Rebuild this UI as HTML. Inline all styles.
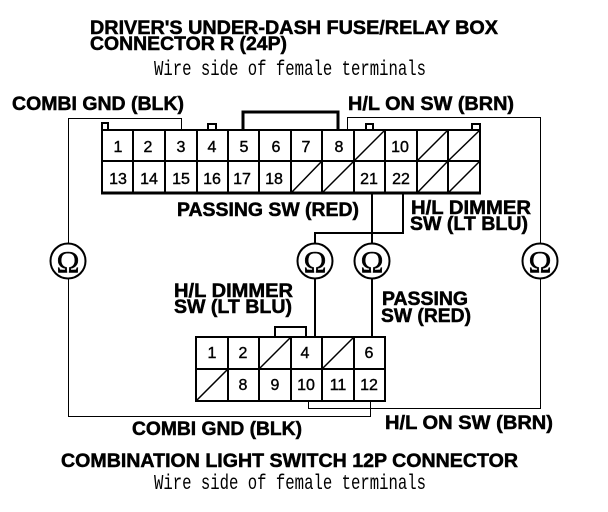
<!DOCTYPE html>
<html><head><meta charset="utf-8"><style>
html,body{margin:0;padding:0;background:#fff}
svg{display:block}
.b{font-family:"Liberation Sans",sans-serif;font-weight:bold;font-size:19px;stroke:#000;stroke-width:.5px}
.m{font-family:"Liberation Mono",monospace;font-size:21px}
.n{font-family:"Liberation Sans",sans-serif;font-size:16px;text-anchor:middle;stroke:#000;stroke-width:.4px}
.o{font-family:"Liberation Serif",serif;font-size:31px;text-anchor:middle;stroke:#000;stroke-width:.4px}
.c{shape-rendering:crispEdges}
</style></head><body>
<svg width="608" height="512" viewBox="0 0 608 512" xmlns="http://www.w3.org/2000/svg">
<rect width="608" height="512" fill="#fff"/>
<g class="b" fill="#000">
<text x="90" y="34" textLength="408" lengthAdjust="spacingAndGlyphs">DRIVER'S UNDER-DASH FUSE/RELAY BOX</text>
<text x="90" y="50" textLength="197" lengthAdjust="spacingAndGlyphs">CONNECTOR R (24P)</text>
<text x="12" y="110" textLength="172" lengthAdjust="spacingAndGlyphs">COMBI GND (BLK)</text>
<text x="348" y="110" textLength="166" lengthAdjust="spacingAndGlyphs">H/L ON SW (BRN)</text>
<text x="177" y="216" textLength="182" lengthAdjust="spacingAndGlyphs">PASSING SW (RED)</text>
<text x="411" y="214" textLength="120" lengthAdjust="spacingAndGlyphs">H/L DIMMER</text>
<text x="410" y="230" textLength="118" lengthAdjust="spacingAndGlyphs">SW (LT BLU)</text>
<text x="174" y="297" textLength="119" lengthAdjust="spacingAndGlyphs">H/L DIMMER</text>
<text x="174" y="313" textLength="118" lengthAdjust="spacingAndGlyphs">SW (LT BLU)</text>
<text x="382" y="305" textLength="86" lengthAdjust="spacingAndGlyphs">PASSING</text>
<text x="381" y="322" textLength="90" lengthAdjust="spacingAndGlyphs">SW (RED)</text>
<text x="132" y="435" textLength="170" lengthAdjust="spacingAndGlyphs">COMBI GND (BLK)</text>
<text x="385" y="429" textLength="168" lengthAdjust="spacingAndGlyphs">H/L ON SW (BRN)</text>
<text x="61" y="467" textLength="457" lengthAdjust="spacingAndGlyphs">COMBINATION LIGHT SWITCH 12P CONNECTOR</text>
</g>
<g class="m" fill="#000">
<text x="154" y="75" textLength="272" lengthAdjust="spacingAndGlyphs">Wire side of female terminals</text>
<text x="154" y="489" textLength="272" lengthAdjust="spacingAndGlyphs">Wire side of female terminals</text>
</g>
<g fill="none" stroke="#000" class="c">
<path stroke-width="1" d="M68.5 243V118.5H181.5V130M68.5 279V416.5H370.5V401"/>
<path stroke-width="1" d="M347.5 130V117.5H540.5V243M540.5 279V408.5H308.5V401"/>
<path stroke-width="2" d="M315 279V337M372 279V337"/>
<path stroke-width="2" d="M372 193V243M403 193V233H315V243"/>
<path stroke-width="2" d="M275 337V327H306V337"/>
<path stroke-width="3" d="M243 130V112H338V130"/>
<path stroke-width="2" d="M102 130V123H108V130M208 130V124H216V130M366 130V124H373V130M472 130V124H480V130"/>
</g>
<rect class="c" x="102" y="130" width="378" height="63" fill="#fff" stroke="#000" stroke-width="2"/>
<path class="c" fill="none" stroke="#000" stroke-width="3" d="M101 193H481"/>
<path class="c" fill="none" stroke="#000" stroke-width="2" d="M102 161H480M133 130V193M165 130V193M197 130V193M228 130V193M259 130V193M291 130V193M322 130V193M354 130V193M385 130V193M417 130V193M448 130V193"/>
<path fill="none" stroke="#000" stroke-width="1.5" d="M291 193L322 161M322 193L354 161M354 161L385 130M417 161L448 130M448 161L480 130M417 193L448 161M448 193L480 161"/>
<rect class="c" x="196" y="337" width="189" height="64" fill="#fff" stroke="#000" stroke-width="2"/>
<path class="c" fill="none" stroke="#000" stroke-width="2" d="M196 369H385M228 337V401M259 337V401M291 337V401M322 337V401M354 337V401"/>
<path fill="none" stroke="#000" stroke-width="1.5" d="M196 401L228 369M259 369L291 337M322 369L354 337"/>
<g class="n" fill="#000">
<text x="118" y="152">1</text><text x="148" y="152">2</text><text x="181" y="152">3</text><text x="212" y="152">4</text><text x="244" y="152">5</text><text x="276" y="152">6</text><text x="306" y="152">7</text><text x="339" y="152">8</text><text x="400" y="152">10</text>
<text x="118" y="184">13</text><text x="149" y="184">14</text><text x="181" y="184">15</text><text x="212" y="184">16</text><text x="242" y="184">17</text><text x="274" y="184">18</text><text x="369" y="184">21</text><text x="401" y="184">22</text>
<text x="212" y="358">1</text><text x="243" y="358">2</text><text x="305" y="358">4</text><text x="369" y="358">6</text>
<text x="243" y="390">8</text><text x="275" y="390">9</text><text x="306" y="390">10</text><text x="338" y="390">11</text><text x="369" y="390">12</text>
</g>
<g fill="#fff" stroke="#000" stroke-width="2">
<circle cx="68" cy="261" r="17.5"/><circle cx="315" cy="261" r="17.5"/><circle cx="372" cy="261" r="17.5"/><circle cx="540" cy="261" r="17.5"/>
</g>
<g class="o" fill="#000">
<text x="68" y="272">Ω</text><text x="315" y="272">Ω</text><text x="372" y="272">Ω</text><text x="540" y="272">Ω</text>
</g>
</svg>
</body></html>
